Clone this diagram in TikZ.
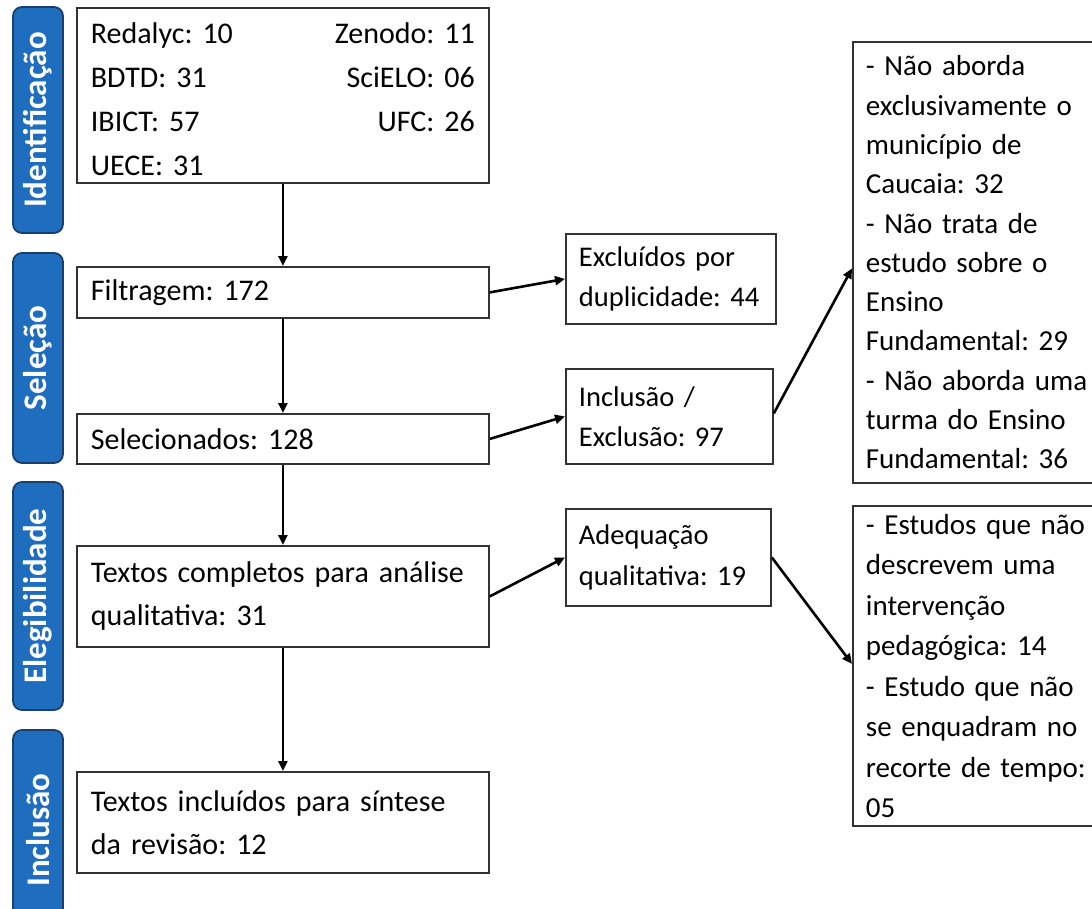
\documentclass[tikz,border=0pt]{standalone}
\usepackage{fontspec}
\setmainfont{Carlito}
\usetikzlibrary{arrows.meta,calc}
\definecolor{sideblue}{HTML}{1F6DBF}
\definecolor{sideedge}{HTML}{1A3E6E}
\definecolor{boxedge}{HTML}{333333}
\tikzset{
  box/.style={draw=boxedge, line width=1.8pt, fill=white, anchor=north west,
    inner xsep=14pt, inner ysep=0pt, align=left,
    font=\fontsize{30}{43}\selectfont},
  midbox/.style={box, inner xsep=13pt, font=\fontsize{28.5}{40}\selectfont},
  sidebox/.style={draw=sideedge, line width=1.8pt, fill=sideblue, rounded corners=9pt,
    rotate=90, inner sep=0pt, text=white, font=\fontsize{33}{36}\selectfont\bfseries},
  flow/.style={draw=black, line width=2.6pt, -{Triangle[length=10pt,width=9pt]}}
}
\begin{document}
\frenchspacing
\begin{tikzpicture}[x=1pt,y=-1pt]
\useasboundingbox (0,0) rectangle (1092,908);
\clip (0,0) rectangle (1092,908);
\fill[white] (0,0) rectangle (1092,908);

% phase labels
\node[sidebox, minimum width=226pt, minimum height=50pt] (sid) at (38,120) {Identificação};
\node[sidebox, minimum width=210pt, minimum height=50pt] (sse) at (38,358) {Seleção};
\node[sidebox, minimum width=228pt, minimum height=50pt] (sel) at (38,596) {Elegibilidade};
\node[sidebox, minimum width=200pt, minimum height=50pt] (sin) at (38,830) {Inclusão};

% main column
\node[box, font=\fontsize{30}{44}\selectfont, minimum width=412pt, minimum height=175pt, text width=384pt] (src) at (76,7)
  {\rule{0pt}{29pt}Redalyc: 10\hfill Zenodo: 11\\BDTD: 31\hfill SciELO: 06\\IBICT: 57\hfill UFC: 26\\UECE: 31};
\node[box, minimum width=412pt, minimum height=51pt, text width=384pt] (filt) at (76,266) {Filtragem: 172};
\node[box, minimum width=412pt, minimum height=50pt, text width=384pt] (sele) at (76,413) {Selecionados: 128};
\node[box, minimum width=412pt, minimum height=101pt, text width=384pt] (comp) at (76,545)
  {Textos completos para análise\\qualitativa: 31};
\node[box, minimum width=412pt, minimum height=101pt, text width=384pt] (incl) at (76,771)
  {Textos incluídos para síntese\\da revisão: 12};

% middle column
\node[midbox, minimum width=210pt, minimum height=90pt, text width=184pt] (dup) at (565,233)
  {Excluídos por\\duplicidade: 44};
\node[midbox, minimum width=207pt, minimum height=95pt, text width=181pt] (ie) at (565,368)
  {Inclusão /\\Exclusão: 97};
\node[midbox, font=\fontsize{28.5}{41}\selectfont, minimum width=205pt, minimum height=97pt, text width=179pt] (adq) at (565,508)
  {Adequação\\qualitativa: 19};

% right column
\node[box, font=\fontsize{29}{39.3}\selectfont, inner xsep=13pt, minimum width=270pt, minimum height=441pt, text width=244pt] (r1) at (852,41)
  {- Não aborda\\exclusivamente o\\município de\\Caucaia: 32\\- Não trata de\\estudo sobre o\\Ensino\\Fundamental: 29\\- Não aborda uma\\turma do Ensino\\Fundamental: 36};
\node[box, font=\fontsize{29}{40.5}\selectfont, inner xsep=13pt, minimum width=270pt, minimum height=320pt, text width=244pt] (r2) at (852,505)
  {- Estudos que não\\descrevem uma\\intervenção\\pedagógica: 14\\- Estudo que não\\se enquadram no\\recorte de tempo:\\05};

% connectors
\draw[flow] (src.south) -- (filt.north);
\draw[flow] (filt.south) -- (sele.north);
\draw[flow] (sele.south) -- (comp.north);
\draw[flow] (comp.south) -- (incl.north);
\draw[flow] (filt.east) -- (dup.west);
\draw[flow] (sele.east) -- (ie.west);
\draw[flow] ($(ie.east)+(0,-3)$) -- ($(r1.west)+(0,6)$);
\draw[flow] (comp.east) -- (adq.west);
\draw[flow] (adq.east) -- ($(r2.west)+(0,-2)$);
\end{tikzpicture}
\end{document}
